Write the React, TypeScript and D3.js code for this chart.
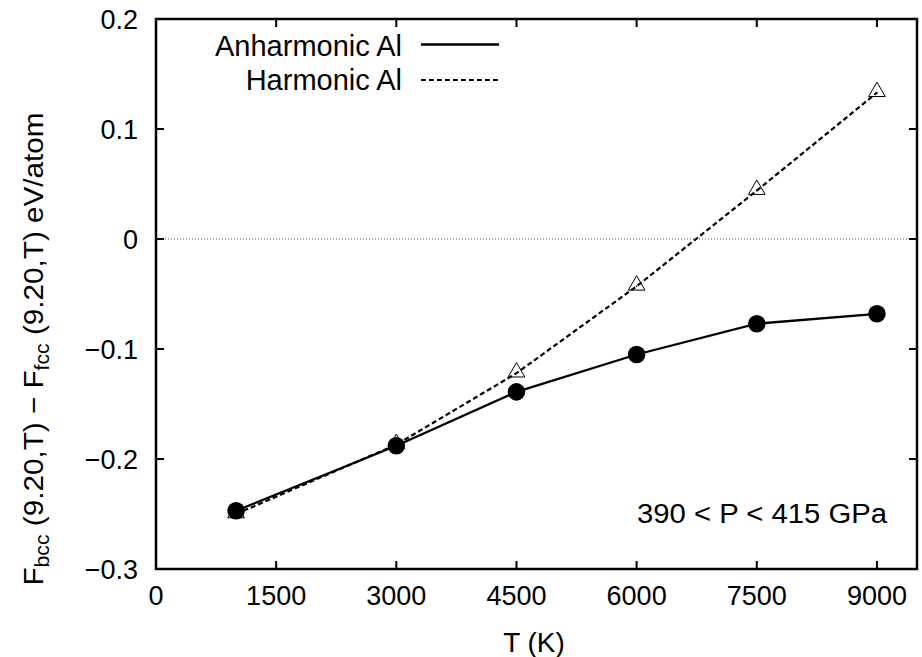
import React from "react";
import * as d3 from "d3";

const temps = [1000, 3000, 4500, 6000, 7500, 9000];
const anharmonic = [-0.247, -0.188, -0.139, -0.105, -0.077, -0.068];
const harmonic = [-0.25, -0.187, -0.122, -0.043, 0.044, 0.133];
const xTicks = [0, 1500, 3000, 4500, 6000, 7500, 9000];
const yTicks = [-0.3, -0.2, -0.1, 0, 0.1, 0.2];
const yTickLabels = ["\u22120.3", "\u22120.2", "\u22120.1", "0", "0.1", "0.2"];
const legendLabels = ["Anharmonic Al", "Harmonic Al"];
const annotation = "390 < P < 415 GPa";

const W = 922, H = 657;
const L = 156, R = 917, T = 19, B = 569;
const FONT = "'Liberation Sans', Arial, Helvetica, sans-serif";

export default function App() {
  const x = d3.scaleLinear().domain([0, 9500]).range([L, R]);
  const y = d3.scaleLinear().domain([-0.3, 0.2]).range([B, T]);
  const lineA = d3.line<number>().x((_, i) => x(temps[i])).y((d) => y(d));
  const tri = d3.symbol().type(d3.symbolTriangle).size(120)();
  const tickLen = 8;

  return (
    <svg width={W} height={H} style={{ position: "absolute", left: 0, top: 0, background: "#fff" }} fontFamily={FONT}>
      <rect x={0} y={0} width={W} height={H} fill="#fff" />
      {/* zero line */}
      <line x1={L} x2={R} y1={y(0)} y2={y(0)} stroke="#555" strokeWidth={1} strokeDasharray="1,2" />
      {/* harmonic */}
      <path d={lineA(harmonic) || ""} fill="none" stroke="#000" strokeWidth={2.2} strokeDasharray="5,3" />
      {harmonic.map((v, i) => (
        <g key={"h" + i} transform={`translate(${x(temps[i])},${y(v) - 1})`}>
          <path d={tri} fill="none" stroke="#000" strokeWidth={1} />
          <circle r={0.8} cy={1} fill="#000" />
        </g>
      ))}
      {/* anharmonic */}
      <path d={lineA(anharmonic) || ""} fill="none" stroke="#000" strokeWidth={2.3} />
      {anharmonic.map((v, i) => (
        <circle key={"a" + i} cx={x(temps[i])} cy={y(v)} r={8.8} fill="#000" />
      ))}
      {/* frame */}
      <rect x={L} y={T} width={R - L} height={B - T} fill="none" stroke="#000" strokeWidth={2.5} />
      {xTicks.map((t) => (
        <g key={"xt" + t}>
          <line x1={x(t)} x2={x(t)} y1={B} y2={B - tickLen} stroke="#000" strokeWidth={2} />
          <line x1={x(t)} x2={x(t)} y1={T} y2={T + tickLen} stroke="#000" strokeWidth={2} />
          <text x={x(t)} y={605} fontSize={27} textAnchor="middle">{t}</text>
        </g>
      ))}
      {yTicks.map((t, i) => (
        <g key={"yt" + i}>
          <line x1={L} x2={L + tickLen} y1={y(t)} y2={y(t)} stroke="#000" strokeWidth={2} />
          <line x1={R} x2={R - tickLen} y1={y(t)} y2={y(t)} stroke="#000" strokeWidth={2} />
          <text x={138} y={y(t) + 10} fontSize={27} textAnchor="end">{yTickLabels[i]}</text>
        </g>
      ))}
      {/* axis labels */}
      <text x={534} y={652} fontSize={28} textAnchor="middle">T (K)</text>
      <text transform="translate(43,349) rotate(-90) scale(1.06,1)" fontSize={28} textAnchor="middle">
        <tspan>F</tspan>
        <tspan fontSize={20} dy={6}>bcc</tspan>
        <tspan dy={-6}> (9.20,T) {"\u2212"} F</tspan>
        <tspan fontSize={20} dy={6}>fcc</tspan>
        <tspan dy={-6}> (9.20,T) eV/atom</tspan>
      </text>
      {/* legend */}
      <text x={402} y={56} fontSize={29} textAnchor="end">{legendLabels[0]}</text>
      <line x1={421} x2={499} y1={44.5} y2={44.5} stroke="#000" strokeWidth={2.3} />
      <text x={402} y={90} fontSize={29} textAnchor="end">{legendLabels[1]}</text>
      <line x1={421} x2={499} y1={80} y2={80} stroke="#000" strokeWidth={2.2} strokeDasharray="5,3" />
      {/* annotation */}
      <text x={637} y={523} fontSize={27} textLength={250} lengthAdjust="spacingAndGlyphs">{annotation}</text>
    </svg>
  );
}
